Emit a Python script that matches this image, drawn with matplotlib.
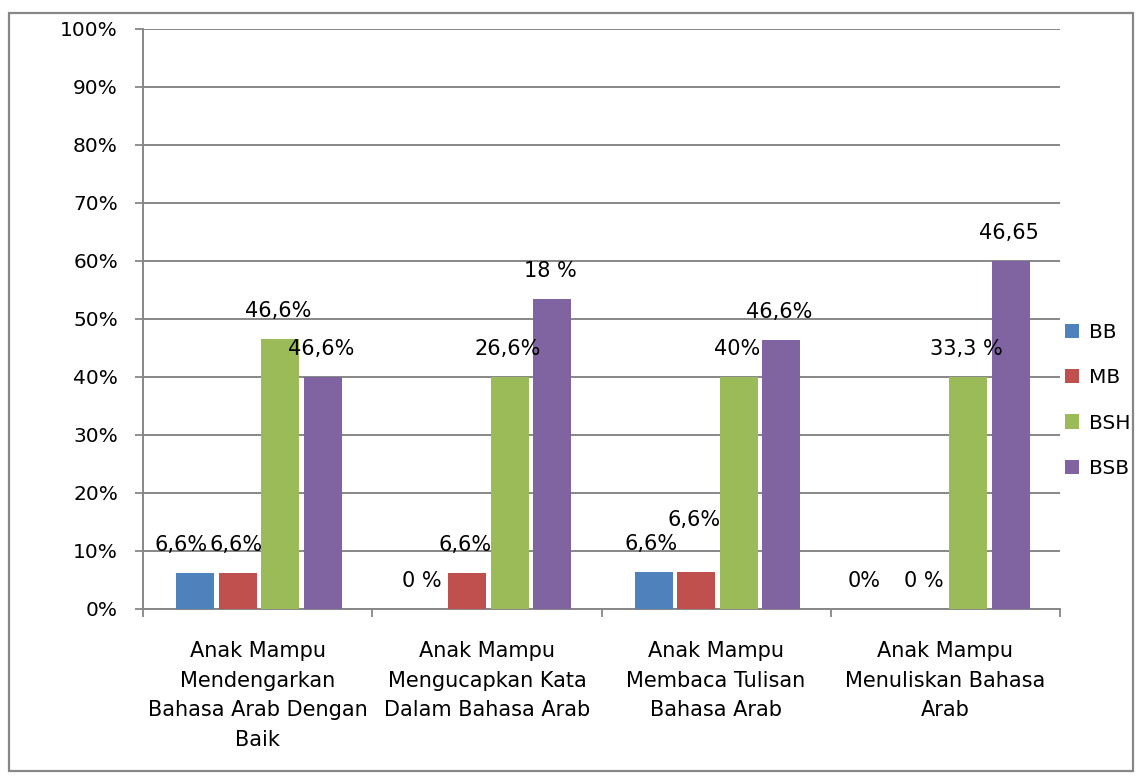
import numpy as np
import matplotlib.pyplot as plt
from matplotlib.patches import Rectangle

plt.rcParams['font.family'] = ['DejaVu Sans']

# Categories and series (bar heights in %, labels as printed on the chart)
categories = [
    "Anak Mampu\nMendengarkan\nBahasa Arab Dengan\nBaik",
    "Anak Mampu\nMengucapkan Kata\nDalam Bahasa Arab",
    "Anak Mampu\nMembaca Tulisan\nBahasa Arab",
    "Anak Mampu\nMenuliskan Bahasa\nArab",
]
series = ["BB", "MB", "BSH", "BSB"]
bb = [6.2, 0, 6.3, 0]
mb = [6.2, 6.2, 6.3, 0]
bsh = [46.5, 40, 40, 40]
bsb = [40, 53.4, 46.4, 60]

bb_labels = ["6,6%", "0 %", "6,6%", "0%"]
mb_labels = ["6,6%", "6,6%", "6,6%", "0 %"]
bsh_labels = ["46,6%", "26,6%", "40%", "33,3 %"]
bsb_labels = ["46,6%", "18 %", "46,6%", "46,65"]

colors = ["#4F81BD", "#C0504D", "#9BBB59", "#8064A2"]

# extra nudges for hand-placed labels (pixels)
nudges = {(0, 0): (-12, 0), (2, 1): (0, -24), (3, 0): (-17, 0)}

fig = plt.figure(figsize=(11.42, 7.81), dpi=100)
ax = fig.add_axes([143 / 1142, 1 - 609 / 781, (1060 - 143) / 1142, (609 - 29) / 781])

x = np.arange(len(categories))
step = 0.186
width = 0.166
values = [bb, mb, bsh, bsb]
labels = [bb_labels, mb_labels, bsh_labels, bsb_labels]
grey = "#878787"

for i, (vals, labs) in enumerate(zip(values, labels)):
    xs = x + (i - 1.5) * step + 0.006
    ax.bar(xs, vals, width=width, color=colors[i], label=series[i], zorder=3)
    for g in range(len(categories)):
        dx, dy = nudges.get((g, i), (0, 0))
        ax.annotate(labs[g], (xs[g], vals[g]), xytext=(-2 + dx, 28 - dy),
                    textcoords='offset pixels', ha='center', va='center',
                    fontsize=15, zorder=4)

ax.set_xlim(-0.5, 3.5)
ax.set_ylim(0, 100)
ax.set_yticks(np.arange(0, 101, 10))
ax.set_yticklabels([f"{v}%" for v in range(0, 101, 10)])
ax.yaxis.grid(True, color=grey, linewidth=1.4, zorder=0)
ax.set_axisbelow(True)

ax.set_xticks(x)
ax.set_xticklabels(categories, fontsize=15, linespacing=1.6)
ax.set_xticks(np.arange(-0.5, 4, 1), minor=True)
ax.tick_params(axis='x', which='major', length=0, pad=23)
ax.tick_params(axis='x', which='minor', length=6, width=1.3, color=grey, direction='out')
ax.tick_params(axis='y', length=6, width=1.3, color=grey, pad=12, labelsize=14.5)

for side in ['top', 'right']:
    ax.spines[side].set_visible(False)
for side in ['left', 'bottom']:
    ax.spines[side].set_color(grey)
    ax.spines[side].set_linewidth(1.4)

ax.legend(loc='center left', bbox_to_anchor=(1065 / 1142, 1 - 400.5 / 781),
          bbox_transform=fig.transFigure, frameon=False, fontsize=14.5,
          handlelength=0.7, handleheight=0.7, handletextpad=0.5,
          labelspacing=1.3, borderpad=0, borderaxespad=0)

# outer chart border
fig.patches.append(Rectangle((9 / 1142, 1 - 771 / 781), (1133 - 9) / 1142, (771 - 13) / 781,
                             transform=fig.transFigure, fill=False, edgecolor=grey,
                             linewidth=1.6))

plt.savefig('out.png', dpi=100)
